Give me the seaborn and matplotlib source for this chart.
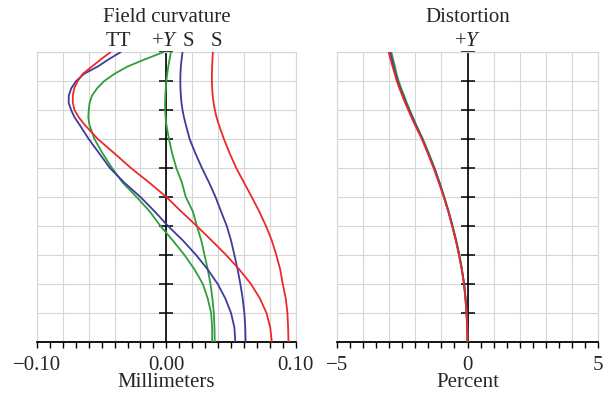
import numpy as np
import pandas as pd
import matplotlib
matplotlib.use("Agg")
import matplotlib.pyplot as plt
import matplotlib.transforms as mtransforms
import seaborn as sns

# ----------------------------
# Data
# ----------------------------
field = [1.0, 0.975, 0.95, 0.925, 0.9, 0.875, 0.85, 0.825, 0.8, 0.775, 0.75, 0.7, 0.65, 0.6, 0.55, 0.5,
         0.45, 0.4, 0.35, 0.3, 0.25, 0.2, 0.15, 0.1, 0.05, 0.0]

# field curvature (mm), T = tangential, S = sagittal
red_t = [-0.043, -0.0505, -0.0575, -0.0645, -0.0685, -0.0712, -0.0723, -0.0723, -0.071, -0.0677, -0.0633,
         -0.053, -0.040, -0.0274, -0.0133, 0.0,
         0.0115, 0.0235, 0.035, 0.0462, 0.0564, 0.0654, 0.0723, 0.0774, 0.0803, 0.0815]
red_s = [0.036, 0.0356, 0.0354, 0.0352, 0.0352, 0.0354, 0.0358, 0.0365, 0.0375, 0.0388, 0.0405,
         0.0445, 0.049, 0.054, 0.060, 0.066,
         0.0718, 0.077, 0.0815, 0.085, 0.088, 0.090, 0.0923, 0.0936, 0.0941, 0.0944]
blue_t = [-0.0352, -0.0445, -0.053, -0.0635, -0.0697, -0.0735, -0.0754, -0.0755, -0.0736, -0.0710, -0.0672,
          -0.060, -0.0518, -0.0436, -0.0326, -0.020,
          -0.009, 0.0013, 0.0128, 0.023, 0.032, 0.0397, 0.0456, 0.050, 0.0526, 0.0533]
blue_s = [0.0125, 0.0118, 0.0112, 0.0109, 0.0108, 0.0109, 0.0112, 0.0117, 0.0125, 0.0136, 0.015,
          0.018, 0.0225, 0.0275, 0.033, 0.038,
          0.0423, 0.0467, 0.050, 0.0526, 0.0551, 0.0572, 0.059, 0.0603, 0.061, 0.0613]
green_t = [-0.002, -0.0164, -0.030, -0.040, -0.048, -0.0535, -0.0574, -0.0593, -0.060, -0.0603, -0.0595,
           -0.0556, -0.0492, -0.042, -0.0338, -0.023,
           -0.0128, -0.0046, 0.005, 0.014, 0.0218, 0.0282, 0.032, 0.0346, 0.0354, 0.0354]
green_s = [0.0035, 0.0025, 0.0015, 0.0007, 0.0, -0.0004, -0.0008, -0.001, -0.001, -0.0006, 0.0,
           0.002, 0.0045, 0.0077, 0.012, 0.015,
           0.0205, 0.0236, 0.027, 0.0295, 0.032, 0.0341, 0.0356, 0.0367, 0.0372, 0.0374]

# distortion (%)
dist_blue = [-2.97, -2.90, -2.83, -2.76, -2.68, -2.58, -2.47, -2.36, -2.24, -2.12, -2.0,
             -1.73, -1.50, -1.28, -1.08, -0.90,
             -0.73, -0.58, -0.44, -0.32, -0.22, -0.13, -0.08, -0.04, -0.01, 0.0]
dist_green = [-2.92, -2.85, -2.78, -2.72, -2.64, -2.54, -2.43, -2.33, -2.21, -2.09, -1.97,
              -1.71, -1.48, -1.26, -1.07, -0.89,
              -0.72, -0.57, -0.43, -0.31, -0.21, -0.13, -0.07, -0.03, -0.01, 0.0]
dist_red = [-3.02, -2.95, -2.87, -2.79, -2.71, -2.61, -2.50, -2.39, -2.27, -2.15, -2.02,
            -1.75, -1.52, -1.30, -1.10, -0.91,
            -0.74, -0.59, -0.45, -0.33, -0.22, -0.14, -0.08, -0.04, -0.01, 0.0]

axis_ticks = [0.1, 0.2, 0.3, 0.4, 0.5, 0.6, 0.7, 0.8, 0.9, 1.0]

colors = {"green": "#2f9e3c", "blue": "#3c3ca0", "red": "#ea2a2a"}

# long-form tables for seaborn
fc = pd.concat([
    pd.DataFrame({"mm": v, "field": field, "curve": name, "color": col})
    for name, col, v in [("green_t", "green", green_t), ("green_s", "green", green_s),
                         ("blue_t", "blue", blue_t), ("blue_s", "blue", blue_s),
                         ("red_t", "red", red_t), ("red_s", "red", red_s)]
])
dist = pd.concat([
    pd.DataFrame({"pct": v, "field": field, "color": col})
    for col, v in [("green", dist_green), ("blue", dist_blue), ("red", dist_red)]
])

# ----------------------------
# Style
# ----------------------------
sns.set_style("white")
plt.rcParams["font.family"] = ["Liberation Serif", "DejaVu Serif"]
plt.rcParams["mathtext.fontset"] = "custom"
plt.rcParams["mathtext.rm"] = "Liberation Serif"
plt.rcParams["mathtext.it"] = "Liberation Serif:italic"
FS = 15
GRID = "#d6d6d6"

fig = plt.figure(figsize=(6.06, 3.94), dpi=100)
ax1 = fig.add_axes([0.061, 0.132, 0.427, 0.736])
ax2 = fig.add_axes([0.556, 0.132, 0.431, 0.736])


def frame(ax, xmax, major, minor, labels):
    ax.set_xlim(-xmax, xmax)
    ax.set_ylim(0, 1)
    ax.set_xticks(np.arange(-xmax, xmax + major / 2, major))
    ax.set_xticks(np.arange(-xmax, xmax + minor / 2, minor), minor=True)
    ax.set_xticklabels(labels, fontsize=FS)
    ax.set_yticks(np.arange(0, 1.05, 0.1))
    ax.set_yticklabels([])
    ax.tick_params(axis="y", length=0)
    ax.tick_params(axis="x", which="both", direction="out", length=4, width=1,
                   color="black", pad=6, bottom=True)
    ax.grid(True, color=GRID, lw=0.8)
    ax.set_axisbelow(True)
    for s in ["top", "left", "right"]:
        ax.spines[s].set_color(GRID)
        ax.spines[s].set_linewidth(0.8)
    ax.spines["bottom"].set_color("black")
    ax.spines["bottom"].set_linewidth(1.3)
    # central +Y axis with cross ticks
    ax.axvline(0, ymin=0, ymax=1, color="black", lw=1.2, zorder=2)
    ax.plot([0] * len(axis_ticks), axis_ticks, ls="none", marker="_", ms=10,
            mew=1.1, color="black", zorder=2, clip_on=False)


lab1 = ["\u22120.10", "", "", "", "", "0.00", "", "", "", "", "0.10"]
frame(ax1, 0.1, 0.02, 0.01, lab1)
lab2 = ["\u22125", "", "", "", "", "0", "", "", "", "", "5"]
frame(ax2, 5, 1, 0.5, lab2)

sns.lineplot(data=fc, x="mm", y="field", hue="curve",
             palette={k: colors[c] for k, c in zip(fc["curve"], fc["color"])},
             sort=False, estimator=None, legend=False, lw=1.3, ax=ax1, zorder=3)
sns.lineplot(data=dist, x="pct", y="field", hue="color", palette=colors,
             sort=False, estimator=None, legend=False, lw=1.3, ax=ax2, zorder=3)

for ax in (ax1, ax2):
    ax.set_ylabel("")

ax1.set_xlabel("Millimeters", fontsize=FS, labelpad=-1)
ax2.set_xlabel("Percent", fontsize=FS, labelpad=-1)

ax1.text(0.5, 1.12, "Field curvature", transform=ax1.transAxes, ha="center",
         va="center", fontsize=FS)
ax2.text(0.5, 1.12, "Distortion", transform=ax2.transAxes, ha="center",
         va="center", fontsize=FS)

tr1 = mtransforms.blended_transform_factory(ax1.transData, ax1.transAxes)
for xv, s in [(-0.037, "TT"), (-0.001, "+$Y$"), (0.017, "S"), (0.039, "S")]:
    ax1.text(xv, 1.035, s, transform=tr1, ha="center", va="center", fontsize=FS)
tr2 = mtransforms.blended_transform_factory(ax2.transData, ax2.transAxes)
ax2.text(0, 1.035, "+$Y$", transform=tr2, ha="center", va="center", fontsize=FS)

fig.savefig("out.png", dpi=100, facecolor="white")
